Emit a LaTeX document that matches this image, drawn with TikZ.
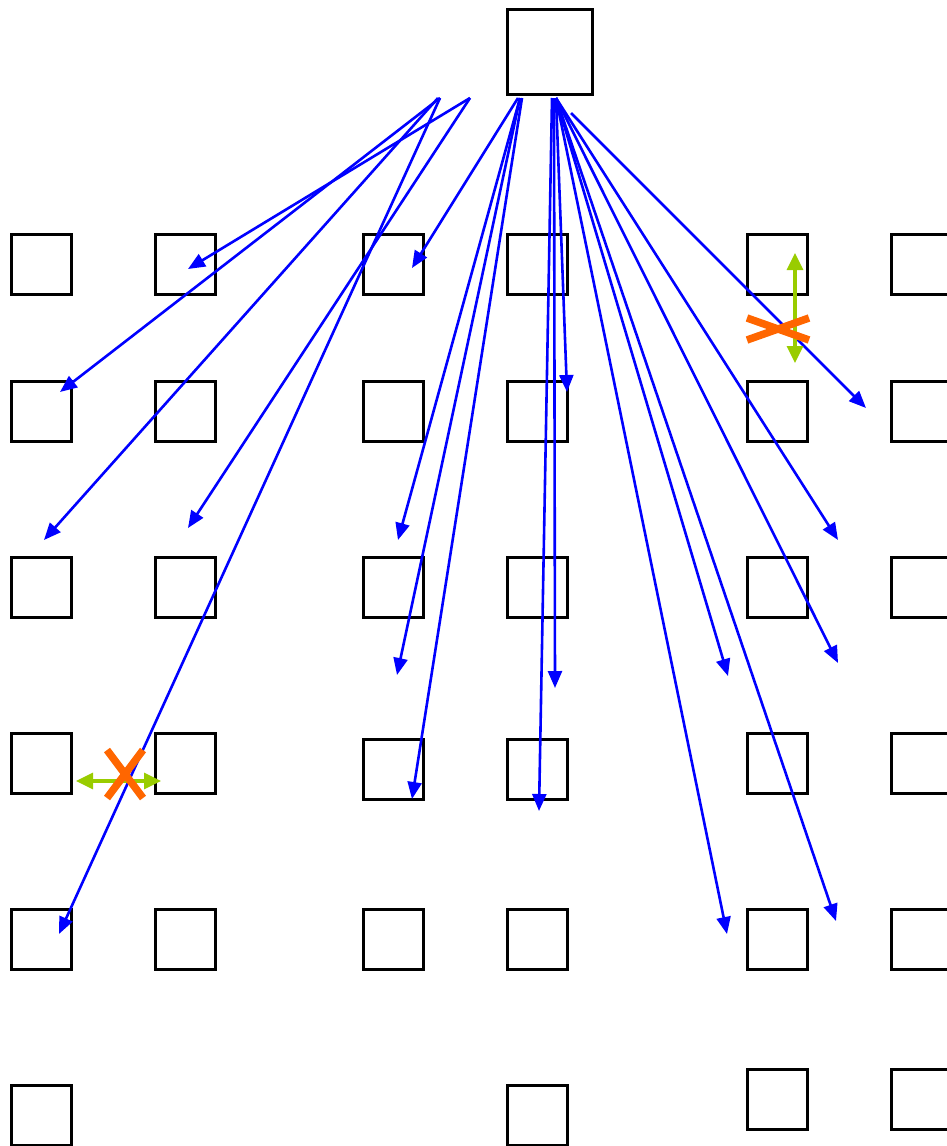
\documentclass[tikz,border=0pt]{standalone}
\usetikzlibrary{arrows.meta}
\definecolor{arrblue}{RGB}{0,0,255}
\definecolor{okgreen}{RGB}{153,204,0}
\definecolor{xorange}{RGB}{255,102,0}
\begin{document}
\begin{tikzpicture}[x=1pt,y=-1pt,
  box/.style={draw=black,line width=2.1pt,minimum width=60pt,minimum height=60pt,inner sep=0pt,outer sep=0pt,anchor=north west},
  bigbox/.style={box,minimum width=85pt,minimum height=85pt},
  flow/.style={draw=arrblue,line width=2.6pt,-{Triangle[length=17pt,width=14pt]}},
  link/.style={draw=okgreen,line width=3.2pt,{Triangle[length=17pt,width=16pt]}-{Triangle[length=17pt,width=16pt]}},
  cross/.style={draw=xorange,line width=7.5pt}]
\useasboundingbox (0,0) rectangle (947,1146);
\fill[white] (0,0) rectangle (947,1146);
% top box
\node[bigbox] (top) at (507.5,9.5) {};
% grid boxes
\foreach \r/\y in {1/234.5,2/381.5,3/557.5,5/909.5}{
  \foreach \c/\x in {1/11.5,2/155.5,3/363.5,4/507.5,5/747.5,6/891.5}{
    \node[box] (b\r\c) at (\x,\y) {};
  }
}
\node[box] (b41) at (11.5,733.5) {};
\node[box] (b42) at (155.5,733.5) {};
\node[box] (b43) at (363.5,739.5) {};
\node[box] (b44) at (507.5,739.5) {};
\node[box] (b45) at (747.5,733.5) {};
\node[box] (b46) at (891.5,733.5) {};
\node[box] (b61) at (11.5,1085.5) {};
\node[box] (b64) at (507.5,1085.5) {};
\node[box] (b65) at (747.5,1069.5) {};
\node[box] (b66) at (891.5,1069.5) {};
% start points
\coordinate (sA) at (438,98);
\coordinate (sB) at (440,98);
\coordinate (sC) at (470,98);
\coordinate (sD) at (518,98);
\coordinate (sE) at (520,98);
\coordinate (sF) at (522,98);
\coordinate (sG) at (552,98);
\coordinate (sH) at (554,98);
\coordinate (sI) at (556,98);
\coordinate (sJ) at (571,113);
% end points
\coordinate (e1) at (188,269);
\coordinate (e2) at (60,392);
\coordinate (e3) at (44,540);
\coordinate (e4) at (188,528);
\coordinate (e5) at (59,934);
\coordinate (e6) at (412,268);
\coordinate (e7) at (398,540);
\coordinate (e8) at (397,675);
\coordinate (e9) at (412,799);
\coordinate (e10) at (539,811);
\coordinate (e11) at (555,688);
\coordinate (e12) at (567,392);
\coordinate (e13) at (727,934);
\coordinate (e14) at (728,676);
\coordinate (e15) at (836,921);
\coordinate (e16) at (838,663);
\coordinate (e17) at (838,540);
\coordinate (e18) at (866,408);
% blue arrows
\draw[flow] (sC) -- (e1);
\draw[flow] (sB) -- (e2);
\draw[flow] (sA) -- (e3);
\draw[flow] (sC) -- (e4);
\draw[flow] (sB) -- (e5);
\draw[flow] (sD) -- (e6);
\draw[flow] (sE) -- (e7);
\draw[flow] (sE) -- (e8);
\draw[flow] (sF) -- (e9);
\draw[flow] (sG) -- (e10);
\draw[flow] (sH) -- (e11);
\draw[flow] (sI) -- (e12);
\draw[flow] (sI) -- (e13);
\draw[flow] (sI) -- (e14);
\draw[flow] (sI) -- (e15);
\draw[flow] (sI) -- (e16);
\draw[flow] (sI) -- (e17);
\draw[flow] (sJ) -- (e18);
% green links
\coordinate (gA1) at (795,253);
\coordinate (gA2) at (795,363);
\coordinate (gB1) at (76,781);
\coordinate (gB2) at (161,781);
\draw[link] (gA1) -- (gA2);
\draw[link] (gB1) -- (gB2);
% orange crosses
\coordinate (xA1) at (747,318);
\coordinate (xA2) at (809,340);
\coordinate (xA3) at (747,340);
\coordinate (xA4) at (809,318);
\draw[cross] (xA1) -- (xA2);
\draw[cross] (xA3) -- (xA4);
\coordinate (xB1) at (107,750);
\coordinate (xB2) at (143,798);
\coordinate (xB3) at (143,750);
\coordinate (xB4) at (107,798);
\draw[cross] (xB1) -- (xB2);
\draw[cross] (xB3) -- (xB4);
\end{tikzpicture}
\end{document}
